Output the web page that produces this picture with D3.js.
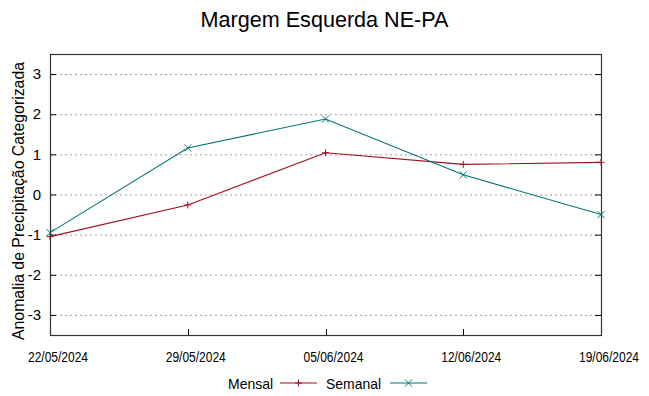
<!DOCTYPE html>
<html>
<head>
<meta charset="utf-8">
<script src="https://cdn.jsdelivr.net/npm/d3@7"></script>
<style>
  body { margin: 0; background: #fff; }
  text { font-family: "Liberation Sans", Arial, sans-serif; fill: #000; }
</style>
</head>
<body>
<div id="chart"></div>
<script>
// Data
const dates = ["22/05/2024", "29/05/2024", "05/06/2024", "12/06/2024", "19/06/2024"];
const mensal = [-1.05, -0.26, 1.04, 0.75, 0.80];
const semanal = [-0.95, 1.16, 1.88, 0.49, -0.50];
const yTicks = [-3, -2, -1, 0, 1, 2, 3];

const width = 649, height = 396;
const margin = { top: 54, right: 48, bottom: 61, left: 50 };
const parse = d3.timeParse("%d/%m/%Y");
const fmt = d3.timeFormat("%d/%m/%Y");

const svg = d3.select("#chart").append("svg")
    .attr("width", width).attr("height", height);

const x = d3.scaleTime()
    .domain(d3.extent(dates, parse))
    .range([margin.left, width - margin.right]);
const y = d3.scaleLinear()
    .domain([-3.5, 3.5])
    .range([height - margin.bottom, margin.top]);

//Grid
svg.append("g").selectAll("line").data(yTicks).enter().append("line")
    .attr("x1", margin.left).attr("x2", width - margin.right)
    .attr("y1", d => y(d) + 0.5).attr("y2", d => y(d) + 0.5)
    .attr("stroke", "#a0a0a0").attr("stroke-width", 1)
    .attr("stroke-dasharray", "2,3");

//Ticks inward
const tickLen = 6;
const tk = svg.append("g").attr("stroke", "#000").attr("stroke-width", 1);
yTicks.forEach(t => {
    tk.append("line").attr("x1", margin.left).attr("x2", margin.left + tickLen)
        .attr("y1", y(t) + 0.5).attr("y2", y(t) + 0.5);
    tk.append("line").attr("x1", width - margin.right - tickLen).attr("x2", width - margin.right)
        .attr("y1", y(t) + 0.5).attr("y2", y(t) + 0.5);
});
dates.forEach(d => {
    const px = Math.round(x(parse(d))) + 0.5;
    tk.append("line").attr("x1", px).attr("x2", px)
        .attr("y1", height - margin.bottom).attr("y2", height - margin.bottom - tickLen);
});

//Border
svg.append("rect")
    .attr("x", margin.left + 0.5).attr("y", margin.top + 0.5)
    .attr("width", width - margin.left - margin.right)
    .attr("height", height - margin.top - margin.bottom)
    .attr("fill", "none").attr("stroke", "#333").attr("stroke-width", 1.2);

//Tick labels
svg.append("g").selectAll("text").data(yTicks).enter().append("text")
    .attr("x", margin.left - 9).attr("y", d => y(d))
    .attr("dy", "0.35em").attr("text-anchor", "end")
    .style("font-size", "15px")
    .text(d => d);
svg.append("g").selectAll("text").data(dates).enter().append("text")
    .attr("x", d => x(parse(d)) - 22).attr("y", 362)
    .attr("textLength", 60).attr("lengthAdjust", "spacingAndGlyphs")
    .style("font-size", "14px")
    .text(d => fmt(parse(d)));

//Title and axis label
svg.append("text").attr("x", 324.5).attr("y", 27)
    .attr("text-anchor", "middle").style("font-size", "21.6px")
    .text("Margem Esquerda NE-PA");
svg.append("text")
    .attr("transform", `translate(24, 201) rotate(-90)`)
    .attr("x", -139)
    .attr("textLength", 278).attr("lengthAdjust", "spacingAndGlyphs")
    .style("font-size", "16px")
    .text("Anomalia de Precipitação Categorizada");

//Series
const series = [
    { name: "Mensal", values: mensal, color: "#a0101c", marker: "plus" },
    { name: "Semanal", values: semanal, color: "#007478", marker: "cross" }
];
const line = d3.line()
    .x((d, i) => x(parse(dates[i])))
    .y(d => y(d));

function marker(g, cx, cy, type, color) {
    const s = 3.5;
    const p = type === "plus"
        ? `M${cx - s},${cy}H${cx + s}M${cx},${cy - s}V${cy + s}`
        : `M${cx - s},${cy - s}L${cx + s},${cy + s}M${cx - s},${cy + s}L${cx + s},${cy - s}`;
    g.append("path").attr("d", p).attr("stroke", color).attr("stroke-width", 1).attr("fill", "none");
}

series.forEach(s => {
    svg.append("path").datum(s.values)
        .attr("d", line).attr("fill", "none")
        .attr("stroke", s.color).attr("stroke-width", 1.1);
    const g = svg.append("g");
    s.values.forEach((v, i) => marker(g, x(parse(dates[i])), y(v), s.marker, s.color));
});

//Legend
const lg = svg.append("g");
const legendY = 383;
const items = [
    { s: series[0], textX: 228, textLen: 45, lineX: [280, 317] },
    { s: series[1], textX: 326, textLen: 55, lineX: [390, 427] }
];
items.forEach(it => {
    lg.append("text").attr("x", it.textX).attr("y", 388.5)
        .attr("textLength", it.textLen).attr("lengthAdjust", "spacingAndGlyphs")
        .style("font-size", "15px").text(it.s.name);
    lg.append("line").attr("x1", it.lineX[0]).attr("x2", it.lineX[1])
        .attr("y1", legendY).attr("y2", legendY)
        .attr("stroke", it.s.color).attr("stroke-width", 1.1);
    marker(lg, (it.lineX[0] + it.lineX[1]) / 2, legendY, it.s.marker, it.s.color);
});
</script>
</body>
</html>
